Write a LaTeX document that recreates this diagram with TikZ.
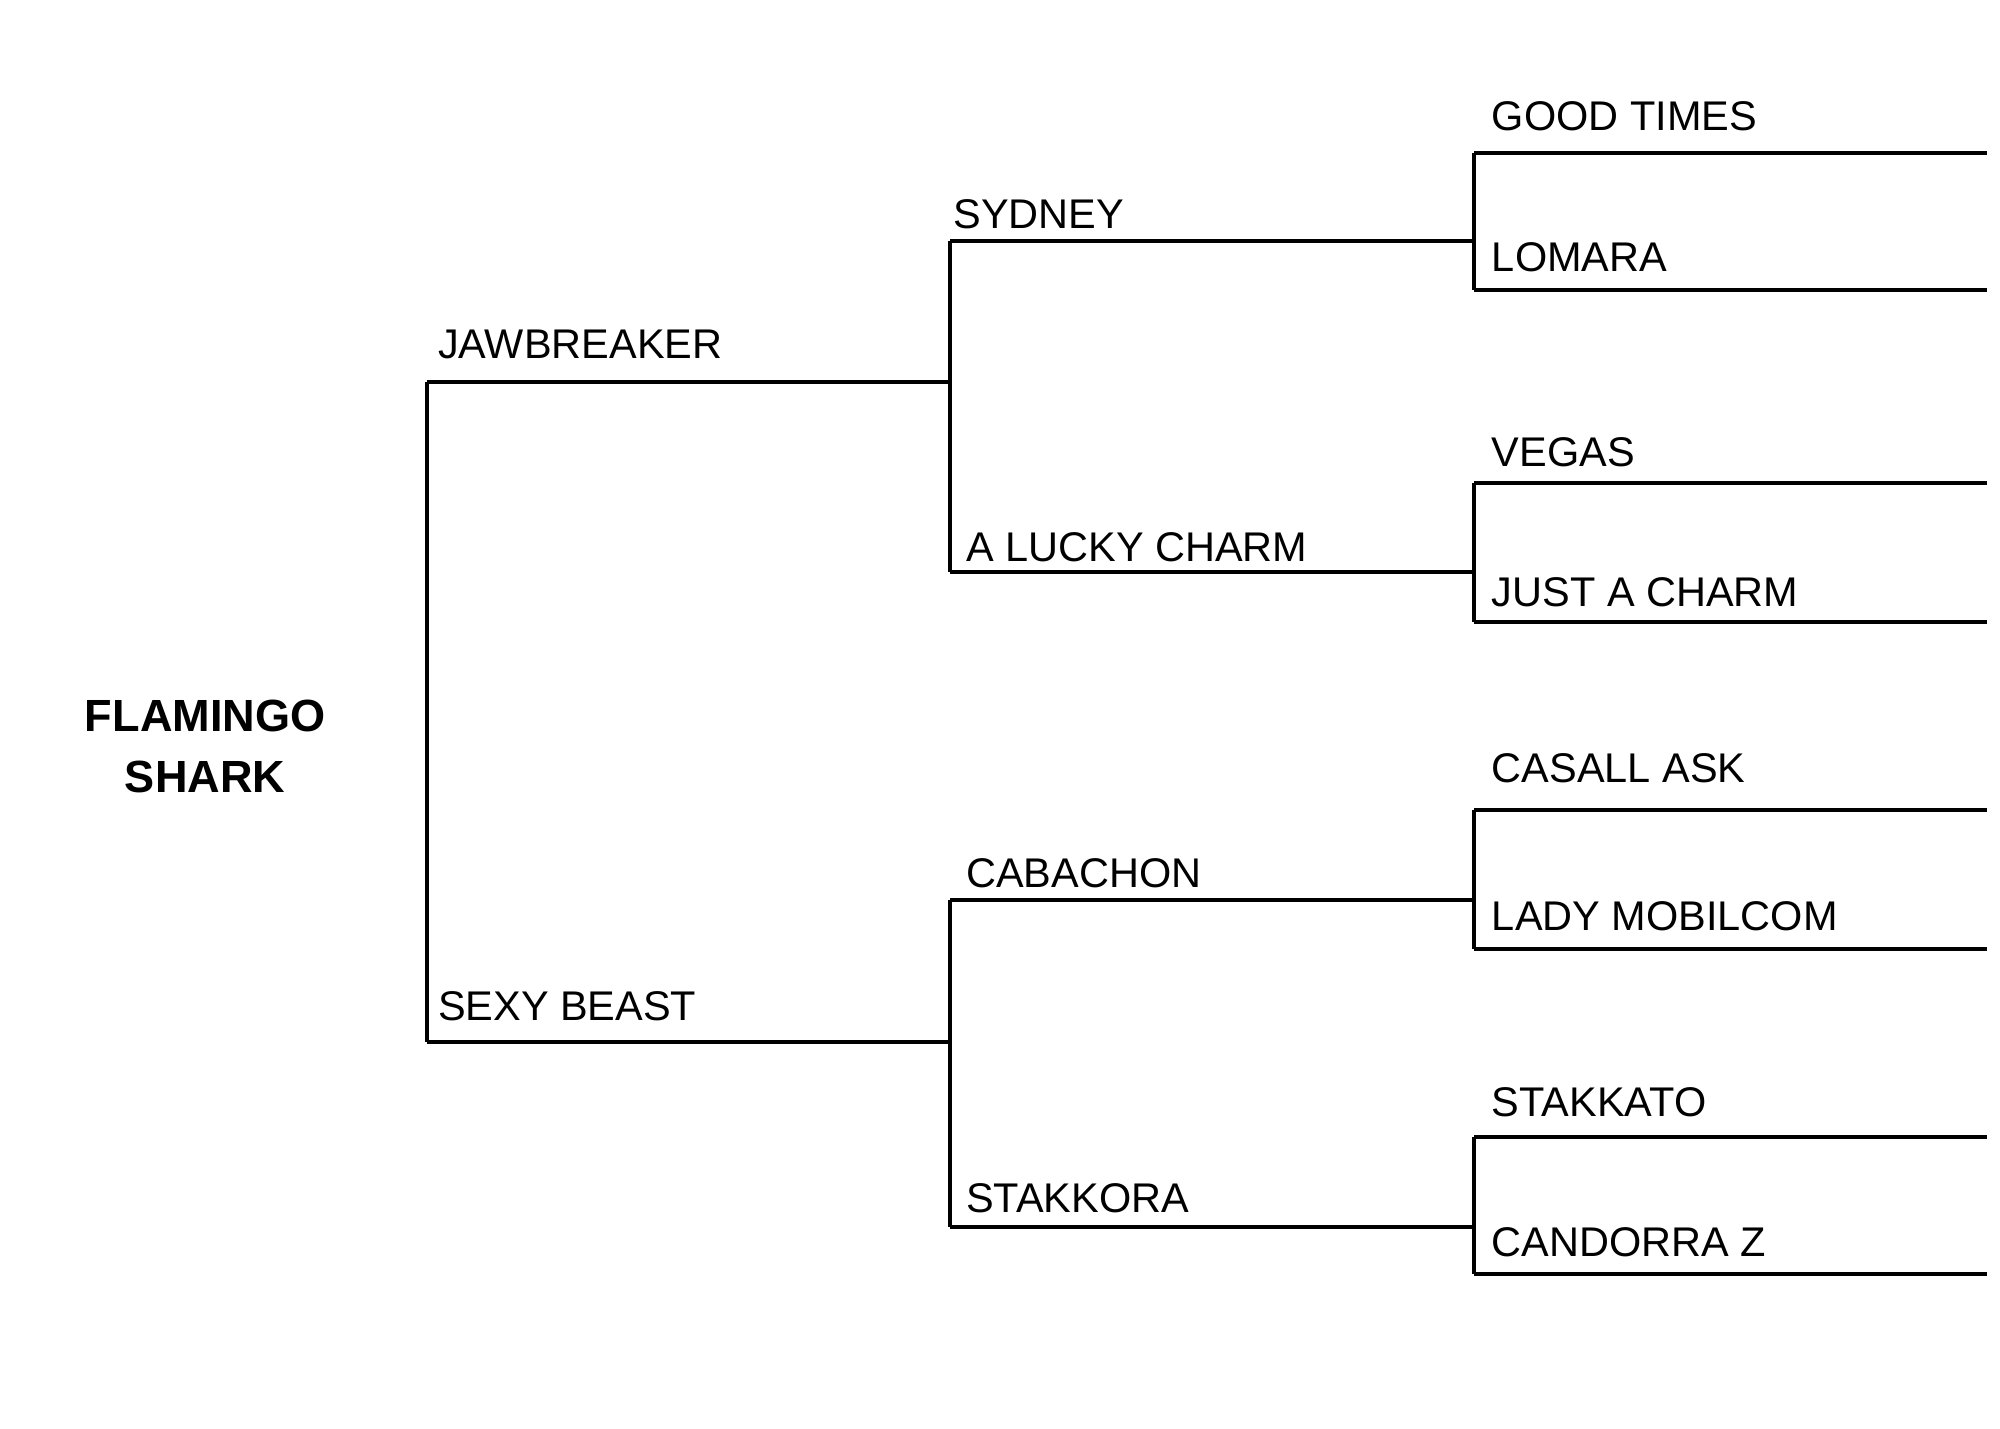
\documentclass[tikz,border=0pt]{standalone}
\usepackage{fontspec}
\setmainfont{Liberation Sans}
\begin{document}
\begin{tikzpicture}[x=0.01cm, y=-0.01cm,
    line/.style={line width=0.9pt},
    ancestor/.style={anchor=base west, inner sep=0pt, font=\fontsize{9.2}{11}\selectfont},
    horse/.style={align=center, font=\fontsize{10}{13.5}\selectfont\bfseries}]
    \useasboundingbox (0,0) rectangle (1560,1114);

    % Define x-positions of the generations
    \def\xa{333}
    \def\xb{741}
    \def\xc{1150}
    \def\xd{1550}

    % Horse
    \node[horse] (flamingo) at (160,582) {FLAMINGO\\SHARK};

    % Parents
    \draw[line] (\xa,298) -- (\xa,813);
    \draw[line] (\xa,298) -- (\xb,298);
    \draw[line] (\xa,813) -- (\xb,813);
    \node[ancestor] (jawbreaker) at (\xa+8,280) {JAWBREAKER};
    \node[ancestor] (sexybeast) at (\xa+8,796) {SEXY BEAST};

    % Grandparents
    \draw[line] (\xb,188) -- (\xb,446);
    \draw[line] (\xb,702) -- (\xb,957);
    \draw[line] (\xb,188) -- (\xc,188);
    \draw[line] (\xb,446) -- (\xc,446);
    \draw[line] (\xb,702) -- (\xc,702);
    \draw[line] (\xb,957) -- (\xc,957);
    \node[ancestor] (sydney) at (\xb+2,178) {SYDNEY};
    \node[ancestor] (luckycharm) at (\xb+12,438) {A LUCKY CHARM};
    \node[ancestor] (cabachon) at (\xb+12,692) {CABACHON};
    \node[ancestor] (stakkora) at (\xb+12,946) {STAKKORA};

    % Great-grandparents
    \draw[line] (\xc,119) -- (\xc,226);
    \draw[line] (\xc,377) -- (\xc,485);
    \draw[line] (\xc,632) -- (\xc,740);
    \draw[line] (\xc,887) -- (\xc,994);
    \draw[line] (\xc,119) -- (\xd,119);
    \draw[line] (\xc,226) -- (\xd,226);
    \draw[line] (\xc,377) -- (\xd,377);
    \draw[line] (\xc,485) -- (\xd,485);
    \draw[line] (\xc,632) -- (\xd,632);
    \draw[line] (\xc,740) -- (\xd,740);
    \draw[line] (\xc,887) -- (\xd,887);
    \draw[line] (\xc,994) -- (\xd,994);
    \node[ancestor] (goodtimes) at (\xc+13,102) {GOOD TIMES};
    \node[ancestor] (lomara) at (\xc+13,212) {LOMARA};
    \node[ancestor] (vegas) at (\xc+13,364) {VEGAS};
    \node[ancestor] (justacharm) at (\xc+13,473) {JUST A CHARM};
    \node[ancestor] (casallask) at (\xc+13,610) {CASALL ASK};
    \node[ancestor] (ladymobilcom) at (\xc+13,726) {LADY MOBILCOM};
    \node[ancestor] (stakkato) at (\xc+13,871) {STAKKATO};
    \node[ancestor] (candorra) at (\xc+13,980) {CANDORRA Z};
\end{tikzpicture}
\end{document}
